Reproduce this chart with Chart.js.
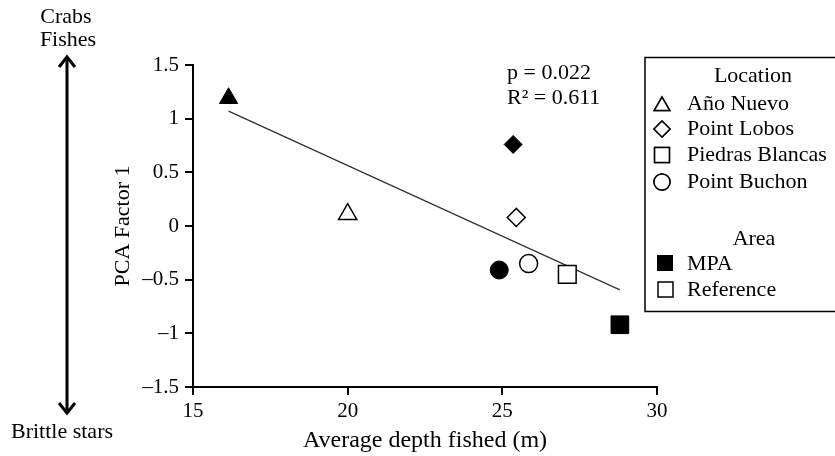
<!DOCTYPE html>
<html>
<head>
<meta charset="utf-8">
<script src="https://cdn.jsdelivr.net/npm/chart.js@4.4.1/dist/chart.umd.min.js"></script>
<style>
  body { margin: 0; background: #fff; }
  #wrap { width: 835px; height: 456px; }
</style>
</head>
<body>
<div id="wrap"><canvas id="pcaChart" width="835" height="456"></canvas></div>
<script>
// sites, in legend order
const locations = ['Año Nuevo', 'Point Lobos', 'Piedras Blancas', 'Point Buchon'];
const shapes = ['triangle', 'rectRot', 'rect', 'circle'];
const sizes = [10.5, 9, 12.5, 9];

// average depth fished (m) and PCA factor 1
const depthMPA = [16.15, 25.35, 28.8, 24.9];
const pcaMPA = [1.19, 0.76, -0.92, -0.41];
const depthRef = [20.0, 25.45, 27.1, 25.85];
const pcaRef = [0.11, 0.08, -0.45, -0.35];

// regression line end points
const fitX = [16.15, 28.8];
const fitY = [1.07, -0.595];

const xTicks = [15, 20, 25, 30];
const yTicks = [-1.5, -1, -0.5, 0, 0.5, 1, 1.5];

const serif = '"Liberation Serif", "Times New Roman", serif';

const toPoints = (xs, ys) => xs.map((x, i) => ({ x: x, y: ys[i] }));

// legend and side notes, drawn after the chart
const extras = {
    id: 'extras',
    afterDraw(chart) {
        const c = chart.ctx;
        c.save();
        c.fillStyle = '#000';
        c.strokeStyle = '#000';
        c.textBaseline = 'middle';
        c.font = '22px ' + serif;

        // stats
        c.textAlign = 'left';
        c.fillText('p = 0.022', 507, 73);
        c.fillText('R² = 0.611', 507, 98);

        // left arrow with labels
        c.textAlign = 'center';
        c.fillText('Crabs', 66, 17);
        c.fillText('Fishes', 68, 40);
        c.fillText('Brittle stars', 62, 432);
        c.lineWidth = 3;
        c.beginPath();
        c.moveTo(67, 60);
        c.lineTo(67, 410);
        c.stroke();
        c.beginPath();
        c.moveTo(59, 67); c.lineTo(67, 57); c.lineTo(75, 67);
        c.moveTo(59, 403); c.lineTo(67, 413); c.lineTo(75, 403);
        c.stroke();

        // legend box
        c.lineWidth = 1.5;
        c.strokeRect(645, 57.5, 195, 254);
        c.fillText('Location', 753, 76);
        c.fillText('Area', 754, 239);
        c.textAlign = 'left';
        const rows = [104, 129, 155, 182];
        const legSizes = [9, 8, 10.5, 8];
        locations.forEach((name, i) => {
            Chart.helpers.drawPoint(c, {
                pointStyle: shapes[i], radius: legSizes[i], rotation: 0, borderWidth: 1.3
            }, 662, rows[i] + (shapes[i] === 'triangle' ? 2 : 0));
            c.fillStyle = '#fff';
            c.fill();
            c.stroke();
            c.fillStyle = '#000';
            c.fillText(name, 687, rows[i]);
        });
        // area key
        c.fillRect(657, 255, 16, 16);
        c.fillText('MPA', 687, 264);
        c.strokeRect(658, 282, 15, 15);
        c.fillText('Reference', 687, 290);
        c.restore();
    }
};

new Chart(document.getElementById('pcaChart'), {
    type: 'scatter',
    data: {
        datasets: [
            {
                label: 'MPA',
                data: toPoints(depthMPA, pcaMPA),
                pointStyle: shapes,
                pointRadius: sizes,
                pointHoverRadius: sizes,
                backgroundColor: '#000',
                borderColor: '#000',
                borderWidth: 1
            },
            {
                label: 'Reference',
                data: toPoints(depthRef, pcaRef),
                pointStyle: shapes,
                pointRadius: sizes,
                pointHoverRadius: sizes,
                backgroundColor: '#fff',
                borderColor: '#000',
                borderWidth: 1.5
            },
            {
                type: 'line',
                label: 'Fit',
                data: toPoints(fitX, fitY),
                borderColor: '#333',
                borderWidth: 1.3,
                pointRadius: 0,
                order: 5
            }
        ]
    },
    options: {
        responsive: false,
        animation: false,
        layout: {
            padding: { left: 0, top: 65, right: 178, bottom: 0 }
        },
        plugins: {
            legend: { display: false },
            tooltip: { enabled: false }
        },
        scales: {
            x: {
                type: 'linear',
                min: 15,
                max: 30,
                afterBuildTicks: s => { s.ticks = xTicks.map(v => ({ value: v })); },
                afterFit: s => { s.height = 69; },
                border: { color: '#000', width: 2 },
                grid: { drawOnChartArea: false, color: '#000', lineWidth: 2, tickLength: 8 },
                ticks: { color: '#000', padding: 4, font: { family: serif, size: 21 } },
                title: {
                    display: true,
                    text: 'Average depth fished (m)',
                    color: '#000',
                    font: { family: serif, size: 24 },
                    padding: { top: 0, bottom: 1 }
                }
            },
            y: {
                type: 'linear',
                min: -1.5,
                max: 1.5,
                afterBuildTicks: s => { s.ticks = yTicks.map(v => ({ value: v })); },
                afterFit: s => { s.width = 193; },
                border: { color: '#000', width: 2 },
                grid: { drawOnChartArea: false, color: '#000', lineWidth: 2, tickLength: 8 },
                ticks: {
                    color: '#000',
                    padding: 6,
                    font: { family: serif, size: 21 },
                    callback: v => String(v).replace('-', '–')
                },
                title: {
                    display: true,
                    text: 'PCA Factor 1',
                    color: '#000',
                    font: { family: serif, size: 22 },
                    padding: { top: 110, bottom: 0 }
                }
            }
        }
    },
    plugins: [extras]
});
</script>
</body>
</html>
